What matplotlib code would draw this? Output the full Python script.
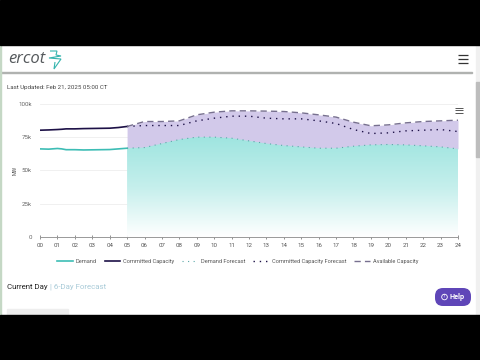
import numpy as np
import matplotlib
matplotlib.use('Agg')
import matplotlib.pyplot as plt
from matplotlib.patches import Rectangle, FancyBboxPatch, PathPatch, Circle
from matplotlib.path import Path

plt.rcParams['font.family'] = ['Roboto', 'DejaVu Sans']

# values, in MW
hours_actual = [0, 0.5, 1, 1.25, 1.5, 2, 2.5, 3, 3.5, 4, 4.5, 5]
demand = [66000, 65800, 66300, 66000, 65400, 65400, 65200, 65300, 65400, 65500, 66000, 66500]
committed = [80000, 80200, 80500, 80700, 81000, 81000, 81200, 81300, 81400, 81500, 82000, 82800]

hours_fc = list(range(5, 25))
demand_fc = [66500, 67000, 70000, 73000, 74800, 74800, 74000, 72000, 70000, 68500,
             67500, 66500, 66500, 68000, 69000, 69300, 69000, 68300, 67500, 66000]
committed_fc = [82800, 83500, 83500, 83500, 87000, 89000, 90500, 90500, 89000, 88500,
                88500, 87000, 85000, 80500, 77500, 78000, 79500, 80000, 80500, 79000]
available = [82800, 86500, 86500, 87000, 91500, 93500, 94500, 94500, 94300, 94000,
             93000, 91500, 89800, 86000, 83300, 84000, 85500, 86500, 87000, 87500]

y_ticks = [0, 25000, 50000, 75000, 100000]
y_labels = ['0', '25k', '50k', '75k', '100k']
x_ticks = list(range(25))
x_labels = ['%02d' % h for h in x_ticks]

W, H = 480, 360
fig = plt.figure(figsize=(W / 100, H / 100), dpi=100, facecolor='white')

# page chrome, in pixel coordinates
bg = fig.add_axes([0, 0, 1, 1])
bg.set_xlim(0, W)
bg.set_ylim(H, 0)
bg.axis('off')
bg.add_patch(Rectangle((0, 72), 472, 1.0, color='#b0b2b0'))
bg.add_patch(Rectangle((0, 45), 1, 270, color='#c5d8c5'))
bg.add_patch(Rectangle((476, 45), 4, 270, color='#f0f0f0'))
bg.add_patch(Rectangle((476, 82), 4, 75, color='#bdbdbd'))
bg.add_patch(Rectangle((7, 309), 61, 6, color='#eeeeee'))
bg.text(8.5, 59, 'ercot', fontsize=12, style='italic', color='#55595c', va='center',
        family=['Open Sans', 'DejaVu Sans'])
# logo squiggle
verts = [(50, 51), (57, 51), (56, 55), (61, 56), (49, 58), (61, 59), (54, 69), (55, 62)]
bg.add_patch(PathPatch(Path(verts), fill=False, ec='#35b5ae', lw=0.8))
for y in (55, 59, 63):
    bg.plot([458, 468], [y, y], color='#333333', lw=0.9, solid_capstyle='butt')
for y in (107.5, 110, 112.5):
    bg.plot([455, 463], [y, y], color='#555555', lw=0.7, solid_capstyle='butt')
bg.text(7, 87.5, 'Last Updated: Feb 21, 2025 05:00 CT', fontsize=4.45, color='#444444', va='center')
bg.text(7, 287, 'Current Day', fontsize=5.7, color='#222222', va='center')
bg.text(49.5, 287, '| 6-Day Forecast', fontsize=5.7, color='#a9cbd8', va='center')
bg.text(15, 170, 'MW', fontsize=3.8, color='#555555', rotation=90, va='center', ha='center')
bg.add_patch(FancyBboxPatch((435, 288), 36, 18, boxstyle='round,pad=0,rounding_size=8',
                            fc='#5f46b8', ec='none'))
bg.add_patch(Circle((444.5, 297), 2.8, fc='none', ec='white', lw=0.6))
bg.text(444.5, 297, '?', fontsize=3.6, color='white', ha='center', va='center')
bg.text(449, 297, 'Help', fontsize=5.2, color='white', weight='bold', ha='left', va='center')
bg.add_patch(Rectangle((0, 0), W, 45, color='black'))
bg.add_patch(Rectangle((0, 315), W, 45, color='black'))

# chart
ax = fig.add_axes([40 / W, 1 - 237 / H, 418 / W, 133.5 / H])
ax.patch.set_alpha(0)
ax.set_xlim(0, 24)
ax.set_ylim(0, 100000)
for s in ('top', 'right', 'left'):
    ax.spines[s].set_visible(False)
ax.spines['bottom'].set_color('#999999')
ax.spines['bottom'].set_linewidth(0.7)
ax.set_yticks(y_ticks, y_labels)
ax.set_xticks(x_ticks, x_labels)
ax.tick_params(axis='y', length=0, labelsize=4.4, labelcolor='#666666', pad=6)
ax.tick_params(axis='x', length=3.5, width=0.5, color='#666666', direction='inout',
               labelsize=4.4, labelcolor='#555555', pad=2.5)
ax.grid(axis='y', color='#eeeeee', lw=0.6)
ax.set_axisbelow(True)

ax.fill_between(hours_fc, demand_fc, available, color='#d2c9ea', lw=0, zorder=1)

# gradient under the demand forecast
grad = np.linspace(0, 1, 200).reshape(-1, 1)
cmap = matplotlib.colors.LinearSegmentedColormap.from_list('g', ['#ffffff', '#c5efec', '#9fe5e0'])
im = ax.imshow(grad, origin='lower', cmap=cmap, aspect='auto', zorder=1,
               extent=(5, 24, 0, max(demand_fc)))
clip = ax.fill_between(hours_fc, 0, demand_fc, color='none', lw=0)
im.set_clip_path(clip.get_paths()[0], transform=ax.transData)
ax.set_xlim(0, 24)
ax.set_ylim(0, 100000)

ax.plot(hours_actual, demand, color='#3dbdb5', lw=1.2, zorder=3, label='Demand')
ax.plot(hours_actual, committed, color='#1d1147', lw=1.2, zorder=3, label='Committed Capacity')
ax.plot(hours_fc, demand_fc, color='#5aa8a8', lw=0.8, ls=(0, (1, 4)), zorder=3, label='Demand Forecast')
ax.plot(hours_fc, committed_fc, color='#1d1147', lw=1.0, ls=(0, (1, 3.5)), zorder=3,
        label='Committed Capacity Forecast')
ax.plot(hours_fc, available, color='#77708f', lw=1.0, ls=(0, (4.5, 3)), zorder=3, label='Available Capacity')

ax.legend(loc='upper center', bbox_to_anchor=(0.473, -0.162), ncol=5, frameon=False, fontsize=4.1,
          labelcolor='#555555', handlelength=2.7, columnspacing=1.4, handletextpad=0.55,
          borderpad=0, borderaxespad=0)

fig.savefig('out.png', dpi=100)
